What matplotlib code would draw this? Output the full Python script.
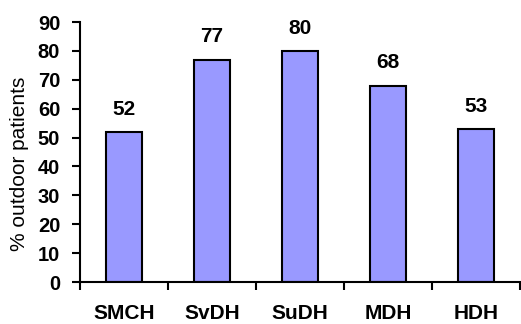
import matplotlib
matplotlib.use("Agg")
import matplotlib.pyplot as plt
import numpy as np

categories = ["SMCH", "SvDH", "SuDH", "MDH", "HDH"]
values = [52, 77, 80, 68, 53]
yticks = [0, 10, 20, 30, 40, 50, 60, 70, 80, 90]

plt.rcParams["font.family"] = ["Liberation Sans", "DejaVu Sans"]

fig = plt.figure(figsize=(5.21, 3.24), dpi=100)
ax = fig.add_axes([80 / 521, 1 - 282 / 324, 440 / 521, 260 / 324])

x = np.arange(len(categories))
ax.bar(x, values, width=0.41, color="#9999FF", edgecolor="black", linewidth=1.5, zorder=2)

for xi, v in zip(x, values):
    ax.annotate(str(v), (xi, v), xytext=(0, 9.5), textcoords="offset points",
                ha="center", va="bottom", fontsize=15, fontweight="bold")

ax.set_xlim(-0.5, len(categories) - 0.5)
ax.set_ylim(0, 90)
ax.set_yticks(yticks)
ax.set_yticklabels([str(t) for t in yticks], fontsize=14.5, fontweight="bold")

ax.set_xticks(np.arange(len(categories) + 1) - 0.5)
ax.set_xticklabels([])
ax.set_xticks(x, minor=True)
ax.set_xticklabels(categories, minor=True, fontsize=15, fontweight="bold")
ax.tick_params(axis="x", which="minor", length=0, pad=16)
ax.tick_params(axis="x", which="major", length=5.8, width=1.5, direction="out")
ax.tick_params(axis="y", length=5.8, width=1.5, direction="out", pad=8.5)

for s in ["top", "right"]:
    ax.spines[s].set_visible(False)
for s in ["left", "bottom"]:
    ax.spines[s].set_linewidth(1.5)

ax.set_ylabel("% outdoor patients", fontsize=15)
ax.yaxis.set_label_coords(-51 / 440, 0.454)

fig.savefig("out.png", dpi=100)
